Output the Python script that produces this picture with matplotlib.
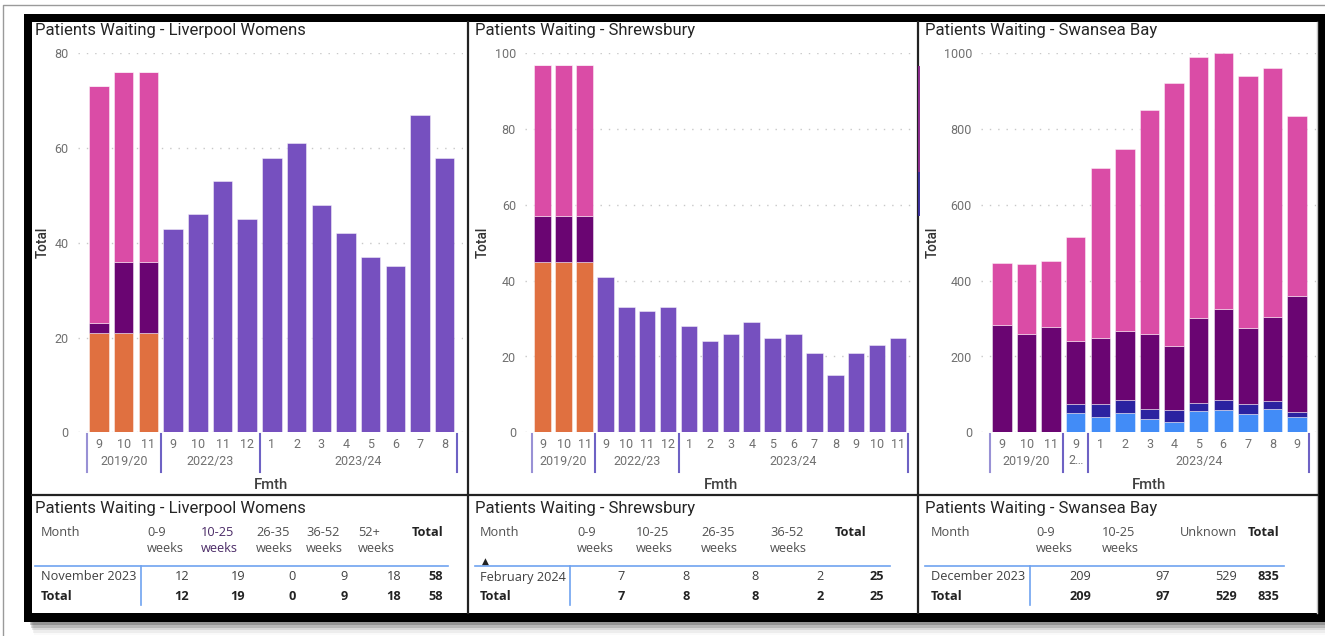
import matplotlib
matplotlib.use('Agg')
import matplotlib.pyplot as plt
from matplotlib.patches import Rectangle
from matplotlib.transforms import blended_transform_factory

# ── Canvas (pixels) ──
W, H = 1325, 636

# ── Data: Liverpool Womens ──
LIV_MONTHS = [9, 10, 11, 9, 10, 11, 12, 1, 2, 3, 4, 5, 6, 7, 8]
LIV_YEARS = ['2019/20', '2022/23', '2023/24']
LIV_YEAR_SIZES = [3, 4, 8]
LIV_ORANGE = [21, 21, 21, 0, 0, 0, 0, 0, 0, 0, 0, 0, 0, 0, 0]
LIV_PLUM = [2, 15, 15, 0, 0, 0, 0, 0, 0, 0, 0, 0, 0, 0, 0]
LIV_PINK = [50, 40, 40, 0, 0, 0, 0, 0, 0, 0, 0, 0, 0, 0, 0]
LIV_VIOLET = [0, 0, 0, 43, 46, 53, 45, 58, 61, 48, 42, 37, 35, 67, 58]
LIV_YTICKS = [0, 20, 40, 60, 80]

# ── Data: Shrewsbury ──
SHR_MONTHS = [9, 10, 11, 9, 10, 11, 12, 1, 2, 3, 4, 5, 6, 7, 8, 9, 10, 11]
SHR_YEARS = ['2019/20', '2022/23', '2023/24']
SHR_YEAR_SIZES = [3, 4, 11]
SHR_ORANGE = [45, 45, 45, 0, 0, 0, 0, 0, 0, 0, 0, 0, 0, 0, 0, 0, 0, 0]
SHR_PLUM = [12, 12, 12, 0, 0, 0, 0, 0, 0, 0, 0, 0, 0, 0, 0, 0, 0, 0]
SHR_PINK = [40, 40, 40, 0, 0, 0, 0, 0, 0, 0, 0, 0, 0, 0, 0, 0, 0, 0]
SHR_VIOLET = [0, 0, 0, 41, 33, 32, 33, 28, 24, 26, 29, 25, 26, 21, 15, 21, 23, 25]
SHR_YTICKS = [0, 20, 40, 60, 80, 100]

# ── Data: Swansea Bay ──
SWA_MONTHS = [9, 10, 11, 9, 1, 2, 3, 4, 5, 6, 7, 8, 9]
SWA_YEARS = ['2019/20', '2\u2026', '2023/24']
SWA_YEAR_SIZES = [3, 1, 9]
SWA_SKY = [0, 0, 0, 50, 41, 50, 35, 27, 55, 59, 47, 61, 41]
SWA_NAVY = [0, 0, 0, 25, 33, 34, 27, 31, 22, 25, 28, 22, 13]
SWA_PLUM = [284, 260, 279, 165, 174, 182, 198, 171, 225, 242, 199, 222, 306]
SWA_PINK = [163, 185, 174, 274, 450, 482, 591, 692, 687, 674, 667, 655, 475]
SWA_YTICKS = [0, 200, 400, 600, 800, 1000]

# ── Tables ──
LIV_TBL_HEAD = ['0-9\nweeks', '10-25\nweeks', '26-35\nweeks', '36-52\nweeks', '52+\nweeks']
LIV_TBL_MONTH = 'November 2023'
LIV_TBL_VALS = [12, 19, 0, 9, 18]
LIV_TBL_TOTAL = 58

SHR_TBL_HEAD = ['0-9\nweeks', '10-25\nweeks', '26-35\nweeks', '36-52\nweeks']
SHR_TBL_MONTH = 'February 2024'
SHR_TBL_VALS = [7, 8, 8, 2]
SHR_TBL_TOTAL = 25

SWA_TBL_HEAD = ['0-9\nweeks', '10-25\nweeks', 'Unknown']
SWA_TBL_MONTH = 'December 2023'
SWA_TBL_VALS = [209, 97, 529]
SWA_TBL_TOTAL = 835

# ── Colours ──
ORANGE = '#E07040'
PLUM = '#6A0572'
PINK = '#DA4CA6'
VIOLET = '#7650BF'
NAVY = '#2B22A0'
SKY = '#428CF7'
SEP = '#6E62C4'
TBL_LINE = '#6FA3F0'

TITLE_FONT = ['Roboto', 'DejaVu Sans']
BODY_FONT = ['Open Sans', 'DejaVu Sans']
TITLE_SIZE = 12.0
TICK_SIZE = 9.0
BODY_SIZE = 9.2

fig = plt.figure(figsize=(W / 100, H / 100), dpi=100)
fig.patch.set_facecolor('white')

# background axes in pixel coordinates
bg = fig.add_axes([0, 0, 1, 1])
bg.set_xlim(0, W)
bg.set_ylim(H, 0)
bg.axis('off')

# outer grey border of the page
bg.plot([3, 3, W], [H, 5, 5], color='#9a9a9a', lw=1.0)
# drop shadow under the black frame
for i, a in enumerate([0.20, 0.14, 0.09, 0.05, 0.02]):
    bg.add_patch(Rectangle((30 + i, 622), W, 3 + 2.5 * i, color='black', alpha=a, lw=0))
# black frame and white canvas
bg.add_patch(Rectangle((24, 14), W, 608, color='black', lw=0))
bg.add_patch(Rectangle((32, 22), 1286, 591, color='white', lw=0))
bg.plot([1317, 1317], [22, 613], color='#c0c0c0', lw=1)
# visual separators
for xs in (468, 918):
    bg.plot([xs, xs], [22, 613], color='#222222', lw=1.6)
bg.plot([32, 1318], [495, 495], color='#222222', lw=1.6)
# clipped legend sliver at the right edge of the middle visual
bg.plot([919, 919], [67, 173], color='#8a2b8c', lw=1.4)
bg.plot([919, 919], [173, 215], color='#3a2f9a', lw=1.4)

AX_TOP, AX_BOT = 53.3, 432.3
AX_H = AX_BOT - AX_TOP


def yfrac(py):
    return (AX_BOT - py) / AX_H


def make_chart(title, title_x, ax_l, ax_r, xlim, ylab_x, ymax, yticks,
               months, years, sizes, stacks):
    ax = fig.add_axes([ax_l / W, 1 - AX_BOT / H, (ax_r - ax_l) / W, AX_H / H])
    ax.set_facecolor('none')
    x = list(range(len(months)))
    bottom = [0] * len(months)
    for vals, col in stacks:
        ax.bar(x, vals, width=0.79, bottom=bottom, color=col,
               edgecolor=(1, 1, 1, 0.45), linewidth=0.7, zorder=3)
        bottom = [b + v for b, v in zip(bottom, vals)]
    ax.set_xlim(*xlim)
    ax.set_ylim(0, ymax)
    ax.set_yticks(yticks)
    ax.set_yticklabels([str(t) for t in yticks], family=TITLE_FONT,
                       fontsize=TICK_SIZE, color='#707070')
    ax.set_xticks(x)
    ax.set_xticklabels([str(m) for m in months], family=TITLE_FONT,
                       fontsize=TICK_SIZE, color='#707070')
    ax.tick_params(axis='both', length=0)
    ax.tick_params(axis='y', pad=6.8)
    ax.tick_params(axis='x', pad=4.0)
    for s in ax.spines.values():
        s.set_visible(False)
    ax.grid(axis='y', color='#c8c8c8', linestyle=(0, (1, 5)), linewidth=1.0, zorder=0)
    ax.set_axisbelow(True)

    tr = blended_transform_factory(ax.transData, ax.transAxes)
    edge = -0.5
    ax.plot([edge, edge], [yfrac(434), yfrac(472)], transform=tr,
            color=SEP, lw=1.5, clip_on=False, alpha=0.7)
    for name, n in zip(years, sizes):
        ax.text(edge + n / 2, yfrac(461), name, transform=tr, ha='center',
                va='center', family=TITLE_FONT, fontsize=TICK_SIZE, color='#707070')
        edge += n
        ax.plot([edge, edge], [yfrac(434), yfrac(472)], transform=tr,
                color=SEP, lw=1.5, clip_on=False)

    ax.set_ylabel('Total', family=TITLE_FONT, fontsize=9.8, color='#333333',
                  fontweight='medium')
    ax.yaxis.set_label_coords(-(ax_l - ylab_x) / (ax_r - ax_l), 0.5)
    ax.set_xlabel('Fmth', family=TITLE_FONT, fontsize=10.6, color='#404040',
                  fontweight='medium')
    ax.xaxis.set_label_coords(0.5, yfrac(485))
    ax.xaxis.label.set_va('center')
    ax.yaxis.label.set_va('center')

    bg.text(title_x, 30.5, title, ha='left', va='center', family=TITLE_FONT,
            fontsize=TITLE_SIZE, color='#252525')
    return ax


make_chart('Patients Waiting - Liverpool Womens', 35, 78.3, 463.5, (-0.84, 14.76), 43,
           80, LIV_YTICKS, LIV_MONTHS, LIV_YEARS, LIV_YEAR_SIZES,
           [(LIV_ORANGE, ORANGE), (LIV_PLUM, PLUM), (LIV_PINK, PINK), (LIV_VIOLET, VIOLET)])
make_chart('Patients Waiting - Shrewsbury', 475, 525.4, 916.0, (-0.83, 17.86), 483,
           100, SHR_YTICKS, SHR_MONTHS, SHR_YEARS, SHR_YEAR_SIZES,
           [(SHR_ORANGE, ORANGE), (SHR_PLUM, PLUM), (SHR_PINK, PINK), (SHR_VIOLET, VIOLET)])
make_chart('Patients Waiting - Swansea Bay', 925, 981.4, 1316.4, (-0.84, 12.79), 933,
           1000, SWA_YTICKS, SWA_MONTHS, SWA_YEARS, SWA_YEAR_SIZES,
           [(SWA_SKY, SKY), (SWA_NAVY, NAVY), (SWA_PLUM, PLUM), (SWA_PINK, PINK)])


def make_table(title, x0, month_x, head, head_x, tot_head_x, month, vals, val_r,
               total, tot_r, line_l, line_r, vline_x, sort_arrow=False, head_colors=None):
    bg.text(x0, 508, title, ha='left', va='center', family=TITLE_FONT,
            fontsize=TITLE_SIZE, color='#252525')
    bg.text(month_x, 532, 'Month', ha='left', va='center', family=BODY_FONT,
            fontsize=BODY_SIZE, color='#505050')
    for i, (h, hx) in enumerate(zip(head, head_x)):
        col = head_colors[i] if head_colors else '#505050'
        for j, line in enumerate(h.split('\n')):
            bg.text(hx, 532 + 17 * j, line, ha='left', va='center', family=BODY_FONT,
                    fontsize=BODY_SIZE, color=col)
    bg.text(tot_head_x, 532, 'Total', ha='left', va='center', family=BODY_FONT,
            fontsize=BODY_SIZE, color='#222222', fontweight='bold')
    if sort_arrow:
        bg.text(month_x + 5, 561, '\u25b2', ha='center', va='center',
                family='DejaVu Sans', fontsize=6.5, color='#222222')
    bg.plot([line_l, line_r], [566, 566], color=TBL_LINE, lw=1.2)
    bg.plot([vline_x, vline_x], [566, 605], color=TBL_LINE, lw=1.2)
    bg.text(month_x, 577, month, ha='left', va='center', family=BODY_FONT,
            fontsize=BODY_SIZE, color='#404040')
    bg.text(month_x, 596, 'Total', ha='left', va='center', family=BODY_FONT,
            fontsize=BODY_SIZE, color='#222222', fontweight='bold')
    for v, r in zip(vals, val_r):
        bg.text(r, 577, str(v), ha='right', va='center', family=BODY_FONT,
                fontsize=BODY_SIZE, color='#404040')
        bg.text(r, 596, str(v), ha='right', va='center', family=BODY_FONT,
                fontsize=BODY_SIZE, color='#222222', fontweight='bold')
    for yy in (577, 596):
        bg.text(tot_r, yy, str(total), ha='right', va='center', family=BODY_FONT,
                fontsize=BODY_SIZE, color='#222222', fontweight='bold')


make_table('Patients Waiting - Liverpool Womens', 35, 41, LIV_TBL_HEAD,
           [147, 201, 256, 306, 358], 412, LIV_TBL_MONTH, LIV_TBL_VALS,
           [189, 245, 296, 348, 401], LIV_TBL_TOTAL, 443, 35, 448, 141,
           head_colors=['#505050', '#4a2a66', '#505050', '#505050', '#505050'])
make_table('Patients Waiting - Shrewsbury', 475, 480, SHR_TBL_HEAD,
           [577, 636, 701, 770], 835, SHR_TBL_MONTH, SHR_TBL_VALS,
           [625, 690, 759, 824], SHR_TBL_TOTAL, 884, 475, 890, 570, sort_arrow=True)
make_table('Patients Waiting - Swansea Bay', 925, 931, SWA_TBL_HEAD,
           [1036, 1102, 1180], 1248, SWA_TBL_MONTH, SWA_TBL_VALS,
           [1091, 1170, 1237], SWA_TBL_TOTAL, 1279, 925, 1284, 1030)

fig.savefig('out.png', dpi=100)
